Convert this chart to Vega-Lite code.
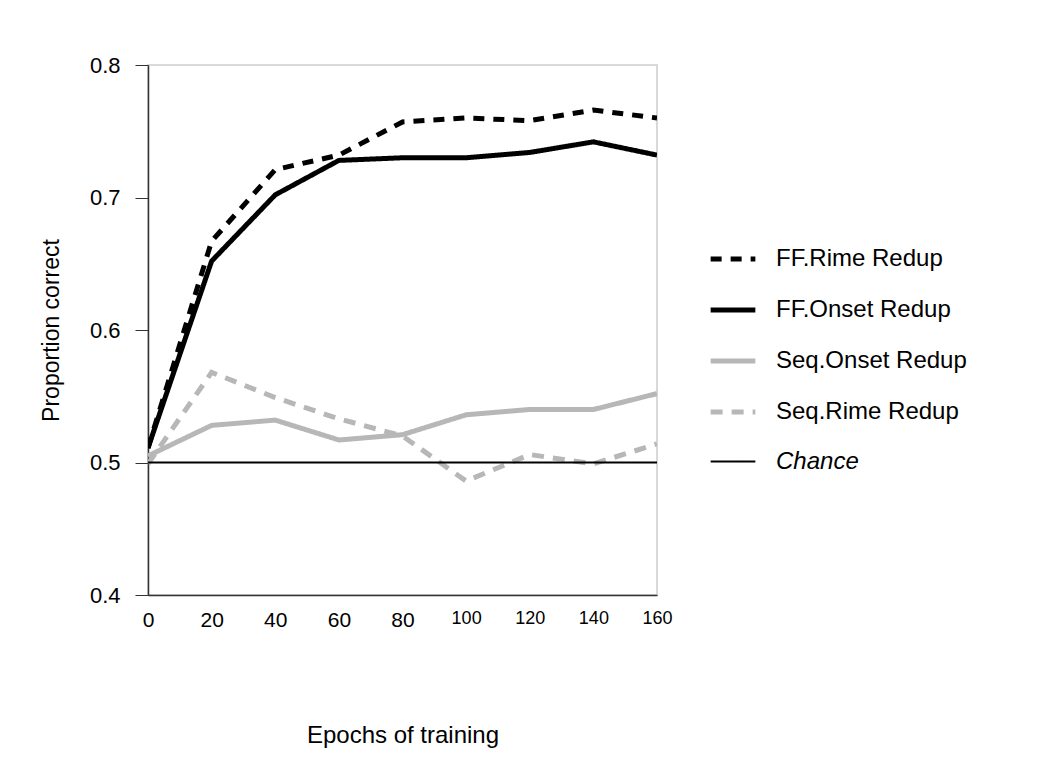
{
  "$schema": "https://vega.github.io/schema/vega-lite/v6.json",
  "width": 509,
  "height": 530,
  "autosize": "none",
  "padding": {"left": 148, "top": 65, "right": 390, "bottom": 170},
  "background": "white",
  "config": {
    "font": "Liberation Sans",
    "view": {"stroke": "#d9d9d9", "strokeWidth": 2}
  },
  "data": {
    "values": [
      {"epoch": 0, "value": 0.511, "series": "FF.Rime Redup"},
      {"epoch": 20, "value": 0.667, "series": "FF.Rime Redup"},
      {"epoch": 40, "value": 0.721, "series": "FF.Rime Redup"},
      {"epoch": 60, "value": 0.732, "series": "FF.Rime Redup"},
      {"epoch": 80, "value": 0.757, "series": "FF.Rime Redup"},
      {"epoch": 100, "value": 0.760, "series": "FF.Rime Redup"},
      {"epoch": 120, "value": 0.758, "series": "FF.Rime Redup"},
      {"epoch": 140, "value": 0.766, "series": "FF.Rime Redup"},
      {"epoch": 160, "value": 0.760, "series": "FF.Rime Redup"},
      {"epoch": 0, "value": 0.511, "series": "FF.Onset Redup"},
      {"epoch": 20, "value": 0.652, "series": "FF.Onset Redup"},
      {"epoch": 40, "value": 0.702, "series": "FF.Onset Redup"},
      {"epoch": 60, "value": 0.728, "series": "FF.Onset Redup"},
      {"epoch": 80, "value": 0.730, "series": "FF.Onset Redup"},
      {"epoch": 100, "value": 0.730, "series": "FF.Onset Redup"},
      {"epoch": 120, "value": 0.734, "series": "FF.Onset Redup"},
      {"epoch": 140, "value": 0.742, "series": "FF.Onset Redup"},
      {"epoch": 160, "value": 0.732, "series": "FF.Onset Redup"},
      {"epoch": 0, "value": 0.505, "series": "Seq.Onset Redup"},
      {"epoch": 20, "value": 0.528, "series": "Seq.Onset Redup"},
      {"epoch": 40, "value": 0.532, "series": "Seq.Onset Redup"},
      {"epoch": 60, "value": 0.517, "series": "Seq.Onset Redup"},
      {"epoch": 80, "value": 0.521, "series": "Seq.Onset Redup"},
      {"epoch": 100, "value": 0.536, "series": "Seq.Onset Redup"},
      {"epoch": 120, "value": 0.540, "series": "Seq.Onset Redup"},
      {"epoch": 140, "value": 0.540, "series": "Seq.Onset Redup"},
      {"epoch": 160, "value": 0.552, "series": "Seq.Onset Redup"},
      {"epoch": 0, "value": 0.499, "series": "Seq.Rime Redup"},
      {"epoch": 20, "value": 0.568, "series": "Seq.Rime Redup"},
      {"epoch": 40, "value": 0.549, "series": "Seq.Rime Redup"},
      {"epoch": 60, "value": 0.533, "series": "Seq.Rime Redup"},
      {"epoch": 80, "value": 0.520, "series": "Seq.Rime Redup"},
      {"epoch": 100, "value": 0.486, "series": "Seq.Rime Redup"},
      {"epoch": 120, "value": 0.506, "series": "Seq.Rime Redup"},
      {"epoch": 140, "value": 0.499, "series": "Seq.Rime Redup"},
      {"epoch": 160, "value": 0.514, "series": "Seq.Rime Redup"},
      {"epoch": 0, "value": 0.5, "series": "Chance"},
      {"epoch": 160, "value": 0.5, "series": "Chance"}
    ]
  },
  "mark": {"type": "line", "strokeCap": "butt", "clip": true},
  "encoding": {
    "x": {
      "field": "epoch",
      "type": "quantitative",
      "scale": {"domain": [0, 160], "nice": false},
      "axis": {
        "values": [0, 20, 40, 60, 80, 100, 120, 140, 160],
        "title": "Epochs of training",
        "titleFontSize": 24,
        "titleFontWeight": "normal",
        "titleColor": "black",
        "titlePadding": 93,
        "labelFontSize": {"expr": "datum.value >= 100 ? 18 : 21"},
        "labelColor": "black",
        "labelPadding": 14,
        "labelFlush": false,
        "ticks": false,
        "grid": false,
        "domainColor": "#333",
        "domainWidth": 1.5
      }
    },
    "y": {
      "field": "value",
      "type": "quantitative",
      "scale": {"domain": [0.4, 0.8], "nice": false, "zero": false},
      "axis": {
        "values": [0.4, 0.5, 0.6, 0.7, 0.8],
        "format": ".1f",
        "title": "Proportion correct",
        "titleFontSize": 23,
        "titleFontWeight": "normal",
        "titleColor": "black",
        "titlePadding": 26,
        "labelFontSize": 22,
        "labelColor": "black",
        "labelPadding": 15,
        "labelFlush": false,
        "tickSize": 13,
        "tickColor": "#333",
        "grid": false,
        "domainColor": "#333",
        "domainWidth": 1.5
      }
    },
    "color": {
      "field": "series",
      "type": "nominal",
      "scale": {
        "domain": ["FF.Rime Redup", "FF.Onset Redup", "Seq.Onset Redup", "Seq.Rime Redup", "Chance"],
        "range": ["#000000", "#000000", "#b7b7b7", "#b7b7b7", "#000000"]
      },
      "legend": {
        "title": null,
        "orient": "none",
        "legendX": 560,
        "legendY": 169,
        "symbolType": "stroke",
        "symbolSize": 2000,
        "labelFontSize": 24,
        "labelColor": "black",
        "labelOffset": 18,
        "labelLimit": 400,
        "rowPadding": 14,
        "encode": {
          "labels": {
            "update": {
              "fontStyle": {"signal": "datum.label === 'Chance' ? 'italic' : 'normal'"}
            }
          }
        }
      }
    },
    "strokeDash": {
      "field": "series",
      "type": "nominal",
      "scale": {
        "domain": ["FF.Rime Redup", "FF.Onset Redup", "Seq.Onset Redup", "Seq.Rime Redup", "Chance"],
        "range": [[11, 9], [1, 0], [1, 0], [12, 9], [1, 0]]
      },
      "legend": null
    },
    "strokeWidth": {
      "field": "series",
      "type": "ordinal",
      "scale": {
        "type": "ordinal",
        "domain": ["FF.Rime Redup", "FF.Onset Redup", "Seq.Onset Redup", "Seq.Rime Redup", "Chance"],
        "range": [5, 5, 5, 5, 2]
      },
      "legend": null
    }
  }
}
